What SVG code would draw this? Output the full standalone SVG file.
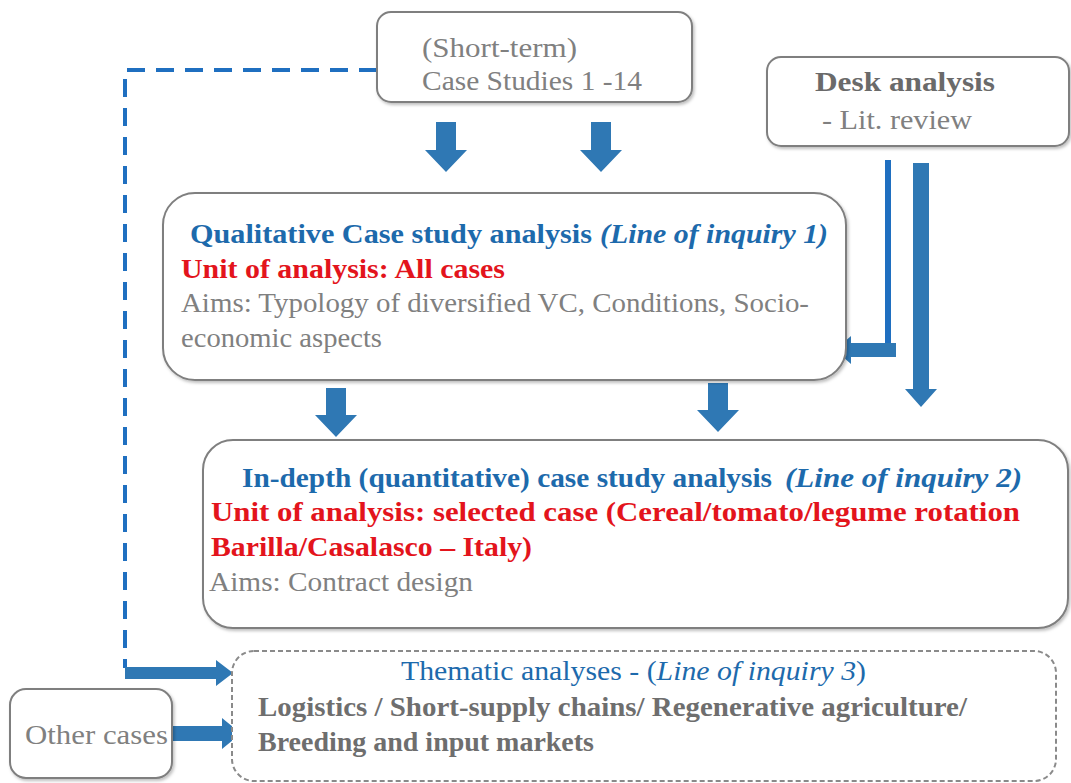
<svg xmlns="http://www.w3.org/2000/svg" width="1071" height="783" viewBox="0 0 1071 783">
<defs>
<filter id="sh" x="-5%" y="-5%" width="110%" height="115%">
<feDropShadow dx="1.5" dy="2" stdDeviation="1.5" flood-color="#000" flood-opacity="0.25"/>
</filter>
</defs>
<style>
.box{fill:#fff;stroke:#7f7f7f;stroke-width:2;filter:url(#sh)}
.dbox{fill:#fff;stroke:#8a8a8a;stroke-width:2;stroke-dasharray:5 3}
.g{fill:#808080}
.gb{fill:#6e6e6e;font-weight:bold}
.blue{fill:#1d6aac;font-weight:bold}
.red{fill:#e3141c;font-weight:bold}
.arr{fill:#2f78b4}
.dash{fill:none;stroke:#1f6fc0;stroke-width:4;stroke-dasharray:18 11}
.thin{fill:none;stroke:#1f6fc0;stroke-width:6}
</style>
<rect width="1071" height="783" fill="#fff"/>

<g id="connectors">
<path class="dash" d="M377,70 H125 V668"/>
<path class="arr" d="M125,667 H216 V660 L233,673 L216,686 V679 H125 Z"/>
<path class="arr" d="M172,726 H222 V718 L241,733.5 L222,749 V741 H172 Z"/>
<path class="arr" d="M436,122 H456 V150 H467 L446,172 L425,150 H436 Z"/>
<path class="arr" d="M591,122 H611 V150 H622 L601,172 L580,150 H591 Z"/>
<path class="arr" d="M326,388 H346 V415 H357 L336,437 L315,415 H326 Z"/>
<path class="arr" d="M708,383 H728 V410 H739 L718,432 L697,410 H708 Z"/>
<path class="arr" d="M913,163 H929 V389 H937 L921,407 L905,389 H913 Z"/>
<path class="thin" d="M888,160 V346"/>
<path class="arr" d="M896,343 V357 H851 V364 L835,350 L851,336 V343 Z"/>
</g>

<g font-family="'Liberation Serif', 'Times New Roman', serif">
<g id="short-term">
<rect class="box" x="377" y="12" width="315" height="90" rx="14"/>
<text class="g" font-family="'Liberation Serif', serif" x="422" y="57" font-size="27" textLength="155" lengthAdjust="spacingAndGlyphs">(Short-term)</text>
<text class="g" font-family="'Liberation Serif', serif" x="422" y="90" font-size="27" textLength="220" lengthAdjust="spacingAndGlyphs">Case Studies 1 -14</text>
</g>

<g id="desk">
<rect class="box" x="767" y="57" width="302" height="89" rx="14"/>
<text font-family="'Liberation Serif', serif" x="815" y="91" font-size="27" font-weight="bold" fill="#6a6a6a" textLength="180" lengthAdjust="spacingAndGlyphs">Desk analysis</text>
<text class="g" font-family="'Liberation Serif', serif" x="822" y="129" font-size="27" textLength="150" lengthAdjust="spacingAndGlyphs">- Lit. review</text>
</g>

<g id="qualitative">
<rect class="box" x="163" y="193" width="683" height="187" rx="32"/>
<text class="blue" font-family="'Liberation Serif', serif" x="190" y="243" font-size="28" textLength="402" lengthAdjust="spacingAndGlyphs">Qualitative Case study analysis</text>
<text class="blue" font-family="'Liberation Serif', serif" x="600" y="243" font-size="28" font-style="italic" textLength="228" lengthAdjust="spacingAndGlyphs">(Line of inquiry 1)</text>
<text class="red" font-family="'Liberation Serif', serif" x="181" y="278" font-size="28" textLength="324" lengthAdjust="spacingAndGlyphs">Unit of analysis: All cases</text>
<text class="g" font-family="'Liberation Serif', serif" x="181" y="312" font-size="28" textLength="628" lengthAdjust="spacingAndGlyphs">Aims: Typology of diversified VC, Conditions, Socio-</text>
<text class="g" font-family="'Liberation Serif', serif" x="181" y="347" font-size="28" textLength="201" lengthAdjust="spacingAndGlyphs">economic aspects</text>
</g>

<g id="in-depth">
<rect class="box" x="203" y="440" width="865" height="188" rx="30"/>
<text class="blue" font-family="'Liberation Serif', serif" x="242" y="487" font-size="28" textLength="530" lengthAdjust="spacingAndGlyphs">In-depth (quantitative) case study analysis</text>
<text class="blue" font-family="'Liberation Serif', serif" x="785" y="487" font-size="28" font-style="italic" textLength="237" lengthAdjust="spacingAndGlyphs">(Line of inquiry 2)</text>
<text class="red" font-family="'Liberation Serif', serif" x="211" y="521" font-size="28" textLength="809" lengthAdjust="spacingAndGlyphs">Unit of analysis: selected case (Cereal/tomato/legume rotation</text>
<text class="red" font-family="'Liberation Serif', serif" x="211" y="556" font-size="28" textLength="321" lengthAdjust="spacingAndGlyphs">Barilla/Casalasco – Italy)</text>
<text class="g" font-family="'Liberation Serif', serif" x="209" y="591" font-size="28" textLength="264" lengthAdjust="spacingAndGlyphs">Aims: Contract design</text>
</g>

<g id="thematic">
<rect class="dbox" x="232" y="651" width="824" height="130" rx="22"/>
<text font-family="'Liberation Serif', serif" x="401" y="680" font-size="27" fill="#1d6aac" textLength="465" lengthAdjust="spacingAndGlyphs">Thematic analyses - (<tspan font-style="italic">Line of inquiry 3</tspan>)</text>
<text class="gb" font-family="'Liberation Serif', serif" x="258" y="716" font-size="27" textLength="709" lengthAdjust="spacingAndGlyphs">Logistics / Short-supply chains/ Regenerative agriculture/</text>
<text class="gb" font-family="'Liberation Serif', serif" x="258" y="751" font-size="27" textLength="336" lengthAdjust="spacingAndGlyphs">Breeding and input markets</text>
</g>

<g id="other-cases">
<rect class="box" x="10" y="689" width="162" height="89" rx="16"/>
<text class="g" font-family="'Liberation Serif', serif" x="25" y="744" font-size="27" textLength="143" lengthAdjust="spacingAndGlyphs">Other cases</text>
</g>
</g>
</svg>
